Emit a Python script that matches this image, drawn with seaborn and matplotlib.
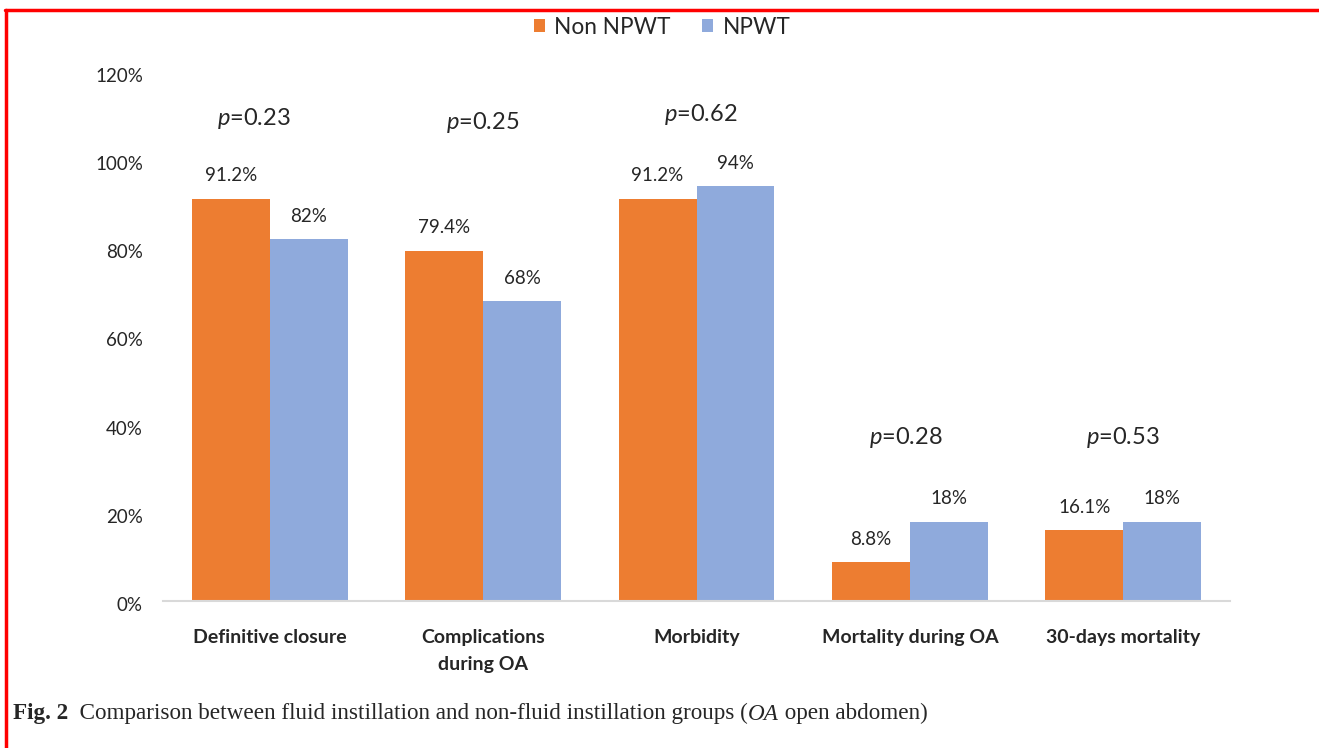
import numpy as np
import pandas as pd
import matplotlib
matplotlib.use("Agg")
import matplotlib.pyplot as plt
import matplotlib.transforms as mtransforms
from matplotlib.lines import Line2D
from matplotlib.patches import Patch
import seaborn as sns

# data
categories = ["Definitive closure", "Complications\nduring OA", "Morbidity",
              "Mortality during OA", "30-days mortality"]
non_npwt = [91.2, 79.4, 91.2, 8.8, 16.1]
npwt = [82, 68, 94, 18, 18]
non_labels = ["91.2%", "79.4%", "91.2%", "8.8%", "16.1%"]
npwt_labels = ["82%", "68%", "94%", "18%", "18%"]
p_values = ["0.23", "0.25", "0.62", "0.28", "0.53"]
p_heights = [109.5, 108.6, 110.4, 37.1, 37.1]
groups = ["Non NPWT", "NPWT"]
colors = {"Non NPWT": "#ED7D31", "NPWT": "#8FAADC"}

# small horizontal nudges for the p labels (layout only)
p_nudge = [-0.075, 0.0, 0.02, -0.02, 0.0]

df = pd.DataFrame({
    "category": categories * 2,
    "group": ["Non NPWT"] * 5 + ["NPWT"] * 5,
    "value": non_npwt + npwt,
})

sns.set_style("white")
plt.rcParams["font.family"] = ["Lato", "DejaVu Sans"]
plt.rcParams["mathtext.fontset"] = "custom"
plt.rcParams["mathtext.it"] = "Lato:italic"
plt.rcParams["mathtext.rm"] = "Lato"

W, H = 1319, 748
fig = plt.figure(figsize=(W / 100, H / 100), dpi=100)
y0, y120 = 601, 601 - 1.2 * 441
ax = fig.add_axes([163 / W, 1 - y0 / H, (1230 - 163) / W, (y0 - y120) / H])

sns.barplot(data=df, x="category", y="value", hue="group", palette=colors,
            width=0.73, gap=0, saturation=1, ax=ax, legend=False, errorbar=None,
            linewidth=0)

ax.set_ylim(0, 120)
ax.set_xlim(-0.5, 4.5)
ax.set_yticks(np.arange(0, 121, 20))
ax.set_yticklabels([f"{v}%" for v in range(0, 121, 20)], fontsize=13.5)
ax.tick_params(axis="y", length=0, pad=14.5)
ax.tick_params(axis="x", length=0, pad=20)
shift = mtransforms.ScaledTranslation(0, -3 / 100, fig.dpi_scale_trans)
for lab in ax.get_yticklabels():
    lab.set_transform(lab.get_transform() + shift)
for lab in ax.get_xticklabels():
    lab.set_fontweight("bold")
    lab.set_fontsize(14)
    lab.set_linespacing(1.7)
ax.set_xlabel("")
ax.set_ylabel("")
for s in ["top", "right", "left"]:
    ax.spines[s].set_visible(False)
ax.spines["bottom"].set_color("#d9d9d9")
ax.spines["bottom"].set_linewidth(1.5)

# value labels and p values
bw = 0.73 / 2
for i in range(len(categories)):
    ax.annotate(non_labels[i], (i - bw / 2, non_npwt[i]), xytext=(0, 16.5),
                textcoords="offset points", ha="center", va="center", fontsize=13.5)
    ax.annotate(npwt_labels[i], (i + bw / 2, npwt[i]), xytext=(0, 16.5),
                textcoords="offset points", ha="center", va="center", fontsize=13.5)
    ax.text(i + p_nudge[i], p_heights[i], r"$\mathit{p}$=" + p_values[i], ha="center",
            va="center", fontsize=17)

# legend
handles = [Patch(facecolor=colors[g], edgecolor="none") for g in groups]
fig.legend(handles, groups, loc="center", bbox_to_anchor=(662 / W, 1 - 27 / H),
           ncol=2, frameon=False, fontsize=16.3, handlelength=0.5, handleheight=0.5,
           handletextpad=0.4, columnspacing=1.4)

# caption
cfs = 16.7
cap1 = fig.text(13 / W, 1 - 714 / H, "Fig. 2", fontfamily="Liberation Serif",
                fontweight="bold", fontsize=cfs, va="center", ha="left")
cap2 = ax.annotate("  Comparison between fluid instillation and non-fluid instillation groups (",
                   xy=(1, 0), xycoords=cap1, va="bottom", ha="left",
                   fontfamily="Liberation Serif", fontsize=cfs, annotation_clip=False)
cap3 = ax.annotate("OA", xy=(1, 0), xycoords=cap2, va="bottom", ha="left",
                   fontfamily="Liberation Serif", fontstyle="italic", fontsize=cfs,
                   annotation_clip=False)
ax.annotate(" open abdomen)", xy=(1, 0), xycoords=cap3, va="bottom", ha="left",
            fontfamily="Liberation Serif", fontsize=cfs, annotation_clip=False)

# red frame (top and left)
fig.add_artist(Line2D([5 / W, 1], [1 - 10 / H, 1 - 10 / H], color="red", lw=2.5,
                      transform=fig.transFigure))
fig.add_artist(Line2D([6 / W, 6 / W], [0, 1 - 10 / H], color="red", lw=2.5,
                      transform=fig.transFigure))

fig.savefig("out.png", dpi=100, facecolor="white")
